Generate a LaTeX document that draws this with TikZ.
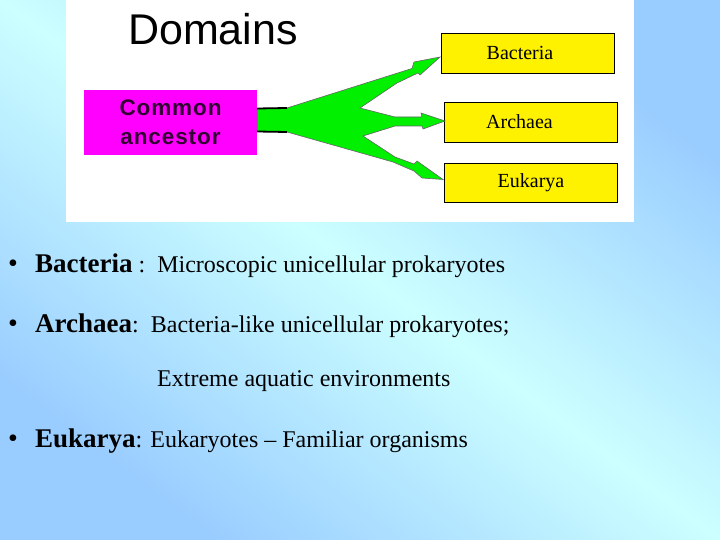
\documentclass[tikz,border=0pt]{standalone}
\usepackage{fontspec}
\setmainfont{Liberation Serif}
\newfontfamily\arialfont{Liberation Sans}
\newfontfamily\ancfont[LetterSpace=4]{Liberation Sans}
\usetikzlibrary{positioning}

\definecolor{slidecyan}{RGB}{204,255,255}
\definecolor{slideblue}{RGB}{153,204,255}
\definecolor{fangreen}{RGB}{0,240,0}
\definecolor{ancmagenta}{RGB}{255,0,255}
\definecolor{anctext}{RGB}{50,0,50}

\begin{document}
\begin{tikzpicture}[
    x=1pt, y=-1pt,
    domainbox/.style={
        rectangle,
        draw=black,
        line width=0.9pt,
        fill=yellow,
        minimum width=173pt,
        minimum height=40pt,
        inner sep=0pt,
        font=\fontsize{20}{22}\selectfont
    },
    ancestor/.style={
        rectangle,
        fill=ancmagenta,
        minimum width=173pt,
        minimum height=65pt,
        align=center,
        text=anctext,
        font=\ancfont\bfseries\fontsize{22.5}{29}\selectfont
    },
    fan/.style={fill=fangreen, draw=black!60, line width=0.6pt},
    trunkline/.style={draw=black, line width=1.8pt},
    dot/.style={anchor=base west, inner sep=0pt, font=\fontsize{28}{30}\selectfont},
    item/.style={anchor=base west, inner sep=0pt, font=\fontsize{24}{26}\selectfont}
]

% =========================================================
% Slide background
% =========================================================
\useasboundingbox (0,0) rectangle (720,540);
\shade[top color=slideblue, bottom color=slideblue, middle color=slidecyan,
       shading angle=-36.87] (0,0) rectangle (720,540);
\fill[white] (66,0) rectangle (634,222);

% =========================================================
% Tree
% =========================================================
\node[font=\arialfont\fontsize{43}{45}\selectfont, anchor=base] (title) at (213,45) {Domains};

\node[ancestor] (anc) at (170.5,122.5) {Common\\ancestor};

\node[domainbox] (bac) at (528,53) {Bacteria\hspace*{16pt}};
\node[domainbox] (arc) at (531,122) {Archaea\hspace*{23pt}};
\node[domainbox, minimum height=39pt] (euk) at (531,182.5) {Eukarya};

% arrow tips
\coordinate (tipB) at ([shift={(-1,4)}]bac.west);
\coordinate (tipA) at ([shift={(1,-1)}]arc.west);
\coordinate (tipE) at ([shift={(-1,-3)}]euk.west);

% green fan
\filldraw[fan] ([yshift=14pt]anc.east) -- (287,108)
    -- (412,68.5) -- (414,62) -- (tipB) -- (420,75) -- (418,73) -- (397,83) -- (360,108)
    -- (395,117) -- (422,117) -- (421,113) -- (tipA) -- (423,129) -- (422,126) -- (395,126) -- (363,136)
    -- (395,157) -- (414,164) -- (417,161) -- (tipE) -- (422,178) -- (414,171) -- (393,162)
    -- (287,132) -- ([yshift=-9pt]anc.east) -- cycle;
\draw[trunkline] ([yshift=14pt]anc.east) -- (287,108);
\draw[trunkline] ([yshift=-9pt]anc.east) -- (287,132);

% =========================================================
% Bullet list
% =========================================================
\node[dot] (d1) at (8,272) {\textbullet};
\node[item] (t1) at (35,272) {\textbf{\fontsize{27}{29}\selectfont Bacteria} :\ \ Microscopic unicellular prokaryotes};

\node[dot] (d2) at (8,332) {\textbullet};
\node[item] (t2) at (35,332) {\textbf{\fontsize{27}{29}\selectfont Archaea}:\ \ Bacteria-like unicellular prokaryotes;};
\node[item] (t3) at (157,386) {Extreme aquatic environments};

\node[dot] (d3) at (8,447) {\textbullet};
\node[item] (t4) at (35,447) {\textbf{\fontsize{27}{29}\selectfont Eukarya}: Eukaryotes -- Familiar organisms};

\end{tikzpicture}
\end{document}
